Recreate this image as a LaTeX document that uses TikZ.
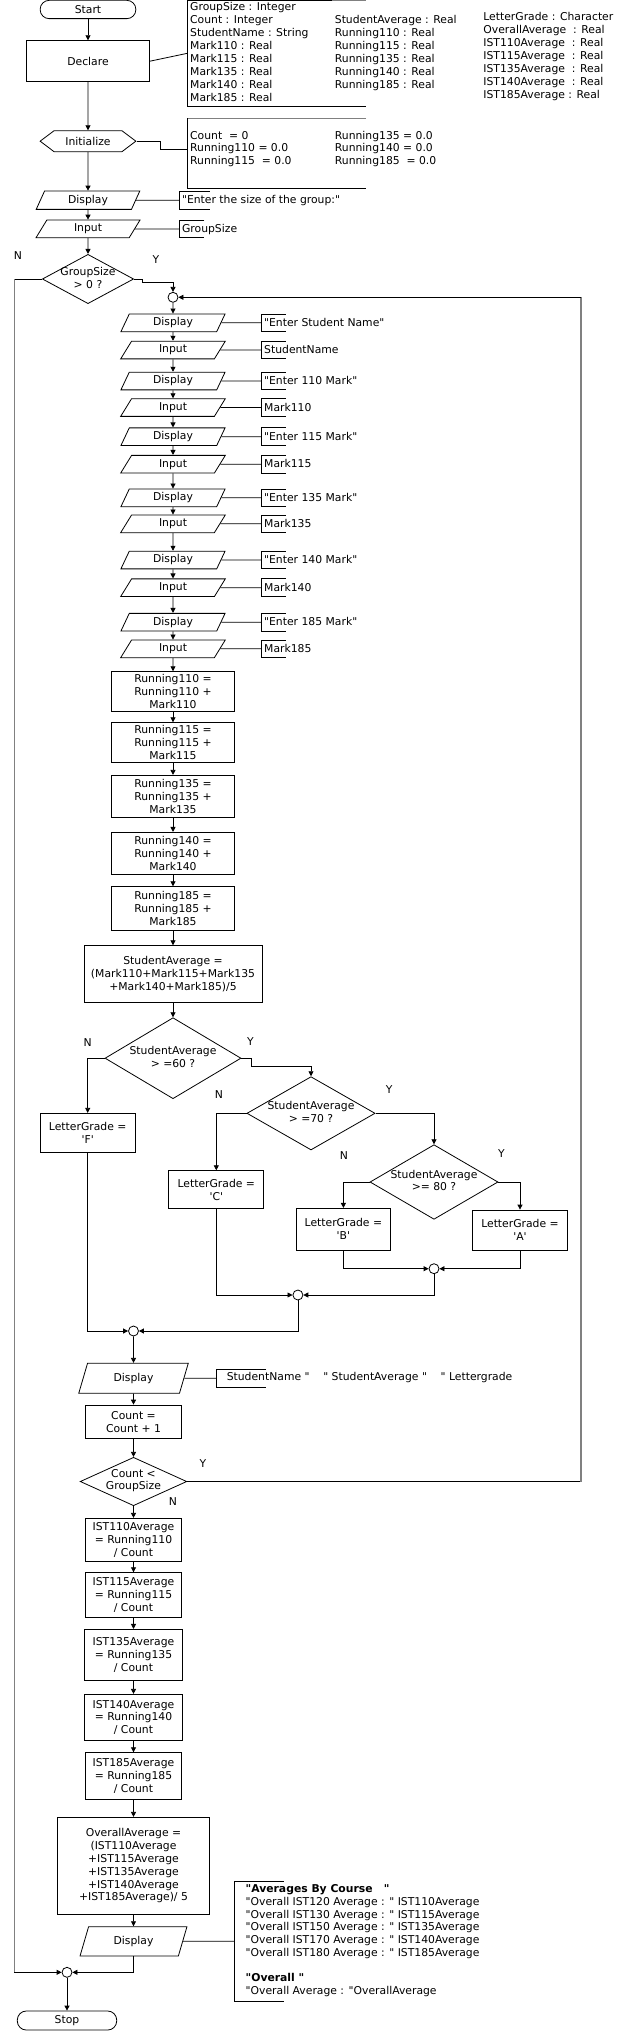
\documentclass[tikz,border=0pt]{standalone}
\usepackage{fontspec}
\newfontfamily\chartfont{DejaVu Sans}
\usetikzlibrary{shapes.geometric,shapes.symbols,arrows.meta}

\begin{document}
\begin{tikzpicture}[x=1pt,y=-1pt,line width=0.8pt]
    \tikzset{
        every node/.style={font=\chartfont\fontsize{10.8}{12.8}\selectfont},
        termbox/.style={draw,rectangle,rounded corners=9pt,inner sep=0},
        procbox/.style={draw,rectangle,align=center,inner sep=0},
        iobox/.style={draw,trapezium,trapezium left angle=70,trapezium right angle=110,
            trapezium stretches=true,inner sep=0},
        decbox/.style={draw,diamond,inner sep=0},
        dectext/.style={align=center,inner sep=0},
        prepbox/.style={draw,signal,signal to=west and east,signal pointer angle=74,inner sep=0},
        joinpt/.style={draw,circle,minimum size=10pt,inner sep=0},
        note/.style={anchor=base west,inner sep=0},
        flow/.style={-{Triangle[length=5pt,width=5pt]}},
        longline/.style={draw=gray,line width=1.2pt}}
    \useasboundingbox (0,0) rectangle (629,2031);

    % top part
    \node[termbox,minimum width=95.7pt,minimum height=18.3pt] (start) at (88,9.5) {Start};
    \node[procbox,minimum width=123pt,minimum height=41pt] (declare) at (88,61.2) {Declare};
    \node[prepbox,minimum width=95.7pt,minimum height=21pt] (init) at (88,141.2) {Initialize};
    \node[iobox,minimum width=104pt,minimum height=18.3pt] (disp0) at (88,200.2) {Display};
    \node[iobox,minimum width=104pt,minimum height=17.7pt] (inp0) at (88,228.9) {Input};
    \node[decbox,minimum width=91.3pt,minimum height=49.3pt] (gs) at (88,279) {};
    \node[dectext] (gs-t) at (88,278) {GroupSize\\> 0 ?};
    \node (gs-n) at (18,256) {N};
    \node (gs-y) at (156,259.3) {Y};

    \draw[flow] (start) -- (declare);
    \draw[flow] (declare) -- (init);
    \draw[flow] (init) -- (disp0);
    \draw[flow] (disp0) -- (inp0);
    \draw[flow] (inp0) -- (gs);

    % declarations
    \coordinate (b1) at (187.4,53.3);
    \draw (declare.east) -- (b1);
    \draw (332,0.5) -- (187.4,0.5) -- (187.4,106) -- (366,106);
    \draw[gray] (332,0.5) -- (366,0.5);
    \foreach \t [count=\k from 0] in {GroupSize : Integer,Count : Integer,StudentName : String,
        Mark110 : Real,Mark115 : Real,Mark135 : Real,Mark140 : Real,Mark185 : Real}
        \node[note] (dc1-\k) at (189.8,10.8+12.9*\k) {\t};
    \foreach \t [count=\k from 1] in {StudentAverage : Real,Running110 : Real,Running115 : Real,
        Running135 : Real,Running140 : Real,Running185 : Real}
        \node[note] (dc2-\k) at (334.5,10.8+12.9*\k) {\t};
    \foreach \t [count=\k from 0] in {LetterGrade : Character,OverallAverage\ \ : Real,
        IST110Average\ \ : Real,IST115Average\ \ : Real,IST135Average\ \ : Real,
        IST140Average\ \ : Real,IST185Average : Real}
        \node[note] (dc3-\k) at (483,20.8+12.95*\k) {\t};

    % initial values
    \coordinate (b2) at (187.4,149.3);
    \draw (init.east) -- (160.8,141.2) |- (b2);
    \draw[gray] (366,118.3) -- (187.4,118.3);
    \draw (187.4,118.3) -- (187.4,188.3) -- (366,188.3);
    \node[note] (iv1) at (189.8,139.2) {Count\ \ = 0};
    \node[note] (iv2) at (189.8,151.7) {Running110 = 0.0};
    \node[note] (iv3) at (189.8,164.2) {Running115\ \ = 0.0};
    \node[note] (iv4) at (334.5,139.2) {Running135 = 0.0};
    \node[note] (iv5) at (334.5,151.7) {Running140 = 0.0};
    \node[note] (iv6) at (334.5,164.2) {Running185\ \ = 0.0};

    \coordinate (b3) at (179.7,200.2);
    \draw (disp0.east) -- (b3);
    \draw (209.9,191) -- (179.7,191) -- (179.7,209.3) -- (209.9,209.3);
    \node[note] (b3-t) at (181.7,203.7) {"Enter the size of the group:"};
    \coordinate (b4) at (179.7,228.9);
    \draw (inp0.east) -- (b4);
    \draw (204.3,220) -- (179.7,220) -- (179.7,237.7) -- (204.3,237.7);
    \node[note] (b4-t) at (181.7,232.4) {GroupSize};

    % student loop
    \node[joinpt] (j0) at (173,297.3) {};
    \draw[flow] (gs.east) -- (142.7,279) |- (173,282.3) -- (j0);
    \foreach \n/\y/\kind/\t in {
        1/322.8/Display/{"Enter Student Name"},
        2/350/Input/StudentName,
        3/381/Display/{"Enter 110 Mark"},
        4/407.5/Input/Mark110,
        5/436.7/Display/{"Enter 115 Mark"},
        6/464.2/Input/Mark115,
        7/497.8/Display/{"Enter 135 Mark"},
        8/523.8/Input/Mark135,
        9/560/Display/{"Enter 140 Mark"},
        10/587.7/Input/Mark140,
        11/622.2/Display/{"Enter 185 Mark"},
        12/648.8/Input/Mark185}{
        \node[iobox,minimum width=104.6pt,minimum height=17.7pt] (io\n) at (173,\y) {\kind};
        \coordinate (iob\n) at (261.4,\y);
        \draw (io\n.east) -- (iob\n);
        \draw (285.5,\y-8.85) -- (261.4,\y-8.85) -- (261.4,\y+8.85) -- (285.5,\y+8.85);
        \node[note] (iot\n) at (263.8,\y+3.5) {\t};
    }
    \draw[flow] (j0) -- (io1);
    \foreach \n [remember=\n as \m (initially 1)] in {2,...,12}
        \draw[flow] (io\m) -- (io\n);

    \node[procbox,minimum width=123.4pt,minimum height=39.3pt] (r110) at (173,691.3) {Running110 =\\Running110 +\\Mark110};
    \node[procbox,minimum width=123.4pt,minimum height=39.6pt] (r115) at (173,742.5) {Running115 =\\Running115 +\\Mark115};
    \node[procbox,minimum width=123.4pt,minimum height=42pt] (r135) at (173,796.3) {Running135 =\\Running135 +\\Mark135};
    \node[procbox,minimum width=123.4pt,minimum height=41.7pt] (r140) at (173,853.2) {Running140 =\\Running140 +\\Mark140};
    \node[procbox,minimum width=123.4pt,minimum height=43.6pt] (r185) at (173,908.5) {Running185 =\\Running185 +\\Mark185};
    \node[procbox,minimum width=178pt,minimum height=57pt] (sa) at (173,974.2) {StudentAverage =\\(Mark110+Mark115+Mark135\\+Mark140+Mark185)/5};
    \draw[flow] (io12) -- (r110);
    \draw[flow] (r110) -- (r115);
    \draw[flow] (r115) -- (r135);
    \draw[flow] (r135) -- (r140);
    \draw[flow] (r140) -- (r185);
    \draw[flow] (r185) -- (sa);

    % grades
    \node[decbox,minimum width=136pt,minimum height=81pt] (d60) at (173,1058.2) {};
    \node[dectext] (d60-t) at (173,1057) {StudentAverage\\> =60 ?};
    \node (d60-n) at (87.7,1042.7) {N};
    \node (d60-y) at (250.5,1042) {Y};
    \node[decbox,minimum width=128.2pt,minimum height=73.3pt] (d70) at (311,1113.3) {};
    \node[dectext] (d70-t) at (311,1112) {StudentAverage\\> =70 ?};
    \node (d70-n) at (219,1095) {N};
    \node (d70-y) at (389.2,1089.3) {Y};
    \node[decbox,minimum width=128pt,minimum height=74.6pt] (d80) at (434,1182) {};
    \node[dectext] (d80-t) at (434,1180.5) {StudentAverage\\>= 80 ?};
    \node (d80-n) at (343.8,1156) {N};
    \node (d80-y) at (501.4,1154) {Y};
    \node[procbox,minimum width=95pt,minimum height=39pt] (fbox) at (87.7,1132.8) {LetterGrade =\\'F'};
    \node[procbox,minimum width=95pt,minimum height=38pt] (cbox) at (216.3,1189.7) {LetterGrade =\\'C'};
    \node[procbox,minimum width=94.8pt,minimum height=41.7pt] (bbox) at (343.4,1229.2) {LetterGrade =\\'B'};
    \node[procbox,minimum width=94.5pt,minimum height=40pt] (abox) at (520,1230) {LetterGrade =\\'A'};
    \node[joinpt] (j1) at (434,1268.7) {};
    \node[joinpt] (j2) at (297.9,1295) {};
    \node[joinpt] (j3) at (133.5,1331) {};

    \draw[flow] (sa) -- (d60);
    \draw[flow] (d60.west) -| (fbox.north);
    \draw[flow] (d60.east) -- (251.3,1058.2) |- (311,1066.7) -- (d70.north);
    \draw[flow] (d70.west) -| (cbox.north);
    \draw[flow] (d70.east) -| (d80.north);
    \draw[flow] (d80.west) -| (bbox.north);
    \draw[flow] (d80.east) -| (abox.north);
    \draw[flow] (bbox.south) |- (j1.west);
    \draw[flow] (abox.south) |- (j1.east);
    \draw[flow] (j1.south) |- (j2.east);
    \draw[flow] (cbox.south) |- (j2.west);
    \draw[flow] (j2.south) |- (j3.east);
    \draw[flow] (fbox.south) |- (j3.west);

    % output and count
    \node[iobox,minimum width=110pt,minimum height=30pt] (disp1) at (133.5,1378.3) {Display};
    \coordinate (b5) at (216.3,1378.3);
    \draw (disp1.east) -- (b5);
    \draw (266.2,1369.3) -- (216.3,1369.3) -- (216.3,1387.3) -- (266.2,1387.3);
    \node[note] (b5-t) at (226.4,1380.8) {StudentName "\ \ \ \ " StudentAverage "\ \ \ \ " Lettergrade};
    \node[procbox,minimum width=95.4pt,minimum height=33.3pt] (count) at (133.5,1421.7) {Count =\\Count + 1};
    \node[decbox,minimum width=106.6pt,minimum height=48.4pt] (dcnt) at (133.5,1481.5) {};
    \node[dectext] (dcnt-t) at (133.5,1480.5) {Count <\\GroupSize};
    \node (dcnt-y) at (203,1463.3) {Y};
    \node (dcnt-n) at (172.9,1501.7) {N};
    \draw[flow] (j3) -- (disp1);
    \draw[flow] (disp1) -- (count);
    \draw[flow] (count) -- (dcnt);
    \coordinate (lpb) at (581,1481.5);
    \coordinate (lpt) at (581,297.3);
    \draw (dcnt.east) -- (lpb);
    \draw[longline] (lpb) -- (lpt);
    \draw[flow] (lpt) -- (j0);

    % averages
    \node[procbox,minimum width=95.4pt,minimum height=43.4pt] (ist110) at (133.5,1540) {IST110Average\\= Running110\\/ Count};
    \node[procbox,minimum width=95.4pt,minimum height=44.6pt] (ist115) at (133.5,1595) {IST115Average\\= Running115\\/ Count};
    \node[procbox,minimum width=97.3pt,minimum height=50.7pt] (ist135) at (133.5,1654.7) {IST135Average\\= Running135\\/ Count};
    \node[procbox,minimum width=97.3pt,minimum height=46pt] (ist140) at (133.5,1717.3) {IST140Average\\= Running140\\/ Count};
    \node[procbox,minimum width=95.4pt,minimum height=46.6pt] (ist185) at (133.5,1776) {IST185Average\\= Running185\\/ Count};
    \node[procbox,minimum width=152pt,minimum height=97pt] (overall) at (133.5,1865.8) {OverallAverage =\\(IST110Average\\+IST115Average\\+IST135Average\\+IST140Average\\+IST185Average)/ 5};
    \node[iobox,minimum width=107.4pt,minimum height=29.3pt] (disp2) at (133.5,1941.3) {Display};
    \draw[flow] (dcnt) -- (ist110);
    \draw[flow] (ist110) -- (ist115);
    \draw[flow] (ist115) -- (ist135);
    \draw[flow] (ist135) -- (ist140);
    \draw[flow] (ist140) -- (ist185);
    \draw[flow] (ist185) -- (overall);
    \draw[flow] (overall) -- (disp2);

    \coordinate (b6) at (234.8,1941.3);
    \draw (disp2.east) -- (b6);
    \draw (283.5,1881) -- (234.8,1881) -- (234.8,2001.7) -- (283.5,2001.7);
    \foreach \k/\t in {0/{\bfseries "Averages By Course\ \ \ "},
        1/{"Overall IST120 Average : " IST110Average},
        2/{"Overall IST130 Average : " IST115Average},
        3/{"Overall IST150 Average : " IST135Average},
        4/{"Overall IST170 Average : " IST140Average},
        5/{"Overall IST180 Average : " IST185Average},
        7/{\bfseries "Overall "},
        8/{"Overall Average : "OverallAverage}}
        \node[note] (fin\k) at (245.3,1892.8+12.7*\k) {\t};

    % end
    \node[joinpt] (j4) at (67,1972.3) {};
    \node[termbox,minimum width=99.4pt,minimum height=19pt] (stop) at (67,2020.5) {Stop};
    \coordinate (lft) at (14.1,279);
    \coordinate (lfb) at (14.1,1972.3);
    \draw (gs.west) -- (lft);
    \draw[longline] (lft) -- (lfb);
    \draw[flow] (lfb) -- (j4);
    \draw[flow] (disp2.south) |- (j4.east);
    \draw[flow] (j4) -- (stop);
\end{tikzpicture}
\end{document}
